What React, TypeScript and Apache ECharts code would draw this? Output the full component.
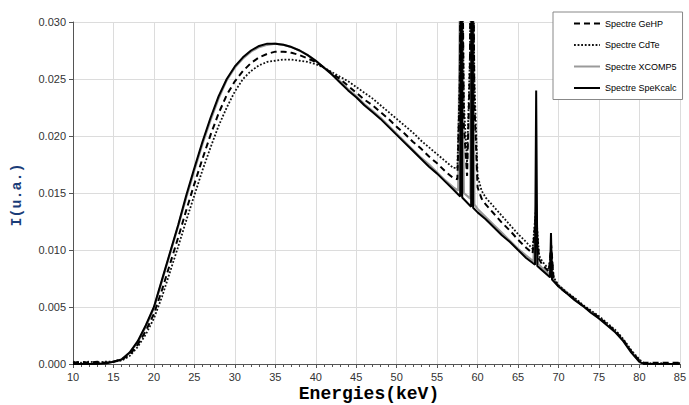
import React, { useEffect, useRef } from "react";
import * as echarts from "echarts";

const xTicks = [10, 15, 20, 25, 30, 35, 40, 45, 50, 55, 60, 65, 70, 75, 80, 85];
const yTicks = [0, 0.005, 0.01, 0.015, 0.02, 0.025, 0.03];

const legendNames = ["Spectre GeHP", "Spectre CdTe", "Spectre XCOMP5", "Spectre SpeKcalc"];

const speKcalc: [number, number][] = [
  [10, 0], [11, 0], [12, 0], [13, 0], [14, 0.00005], [15, 0.0002], [16, 0.0004], [17, 0.001],
  [18, 0.002], [19, 0.0034], [20, 0.005], [21, 0.0074], [22, 0.0098], [23, 0.0122], [24, 0.0148],
  [25, 0.0172], [26, 0.0195], [27, 0.0216], [28, 0.0235], [29, 0.025], [30, 0.0261], [31, 0.0269],
  [32, 0.0275], [33, 0.0279], [34, 0.0281], [35, 0.0281], [36, 0.028], [37, 0.0278], [38, 0.0275],
  [39, 0.0271], [40, 0.0266], [41, 0.026], [42, 0.0254], [43, 0.0247], [44, 0.024], [45, 0.0234],
  [46, 0.0227], [47, 0.0221], [48, 0.0215], [49, 0.0208], [50, 0.0201], [51, 0.0194], [52, 0.0187],
  [53, 0.018], [54, 0.0173], [55, 0.0167], [56, 0.016], [57, 0.0153], [57.85, 0.0147], [57.98, 0.06],
  [58.1, 0.0146], [59.2, 0.0138], [59.32, 0.07], [59.45, 0.0137], [60, 0.0133], [61, 0.0127],
  [62, 0.012], [63, 0.0113], [64, 0.0107], [65, 0.01], [66, 0.0093], [67.1, 0.0087], [67.24, 0.024],
  [67.38, 0.0086], [68, 0.0082], [68.95, 0.0076], [69.07, 0.0115], [69.2, 0.0074], [70, 0.0068],
  [71, 0.0062], [72, 0.0056], [73, 0.0051], [74, 0.0045], [75, 0.004], [76, 0.0034], [77, 0.0028],
  [78, 0.002], [79, 0.001], [80, 0.0002], [80.5, 0], [81, 0], [82, 0], [83, 0], [84, 0], [85, 0],
];

const xcomp5: [number, number][] = [
  [10, 0], [11, 0], [12, 0], [13, 0], [14, 0.0001], [15, 0.0002], [16, 0.0004], [17, 0.001],
  [18, 0.0019], [19, 0.0033], [20, 0.0049], [21, 0.0073], [22, 0.0097], [23, 0.0121], [24, 0.0146],
  [25, 0.017], [26, 0.0193], [27, 0.0214], [28, 0.0233], [29, 0.0249], [30, 0.026], [31, 0.0268],
  [32, 0.0274], [33, 0.0278], [34, 0.028], [35, 0.0281], [36, 0.028], [37, 0.0278], [38, 0.0275],
  [39, 0.0271], [40, 0.0266], [41, 0.026], [42, 0.0254], [43, 0.0248], [44, 0.0241], [45, 0.0235],
  [46, 0.0228], [47, 0.0222], [48, 0.0216], [49, 0.0209], [50, 0.0202], [51, 0.0195], [52, 0.0188],
  [53, 0.0181], [54, 0.0175], [55, 0.0168], [56, 0.0161], [57, 0.0155], [57.6, 0.0152], [57.98, 0.045],
  [58.3, 0.015], [59.1, 0.0145], [59.32, 0.055], [59.6, 0.014], [60, 0.0136], [61, 0.0129],
  [62, 0.0122], [63, 0.0115], [64, 0.0108], [65, 0.0101], [66, 0.0095], [66.9, 0.009], [67.24, 0.014],
  [67.5, 0.0088], [68, 0.0084], [68.9, 0.0078], [69.07, 0.01], [69.3, 0.0075], [70, 0.0069],
  [71, 0.0063], [72, 0.0057], [73, 0.0051], [74, 0.0046], [75, 0.004], [76, 0.0034], [77, 0.0028],
  [78, 0.0021], [79, 0.0011], [80, 0.0002], [80.5, 0], [81, 0], [82, 0], [83, 0], [84, 0], [85, 0],
];

const geHP: [number, number][] = [
  [10, 0.0001], [11, 0.0002], [12, 0.0001], [13, 0.0002], [14, 0.0001], [15, 0.0002], [16, 0.0004],
  [17, 0.0008], [18, 0.0017], [19, 0.0029], [20, 0.0044], [21, 0.0065], [22, 0.0088], [23, 0.0111],
  [24, 0.0135], [25, 0.0158], [26, 0.018], [27, 0.0201], [28, 0.022], [29, 0.0236], [30, 0.0248],
  [31, 0.0257], [32, 0.0264], [33, 0.0269], [34, 0.0272], [35, 0.0274], [36, 0.0274], [37, 0.0273],
  [38, 0.0271], [39, 0.0268], [40, 0.0265], [41, 0.026], [42, 0.0255], [43, 0.025], [44, 0.0244],
  [45, 0.0238], [46, 0.0232], [47, 0.0227], [48, 0.0221], [49, 0.0215], [50, 0.0208], [51, 0.0202],
  [52, 0.0195], [53, 0.0189], [54, 0.0182], [55, 0.0176], [56, 0.0169], [57, 0.0163], [57.5, 0.0162],
  [57.8, 0.024], [58, 0.048], [58.3, 0.021], [58.7, 0.0165], [59.05, 0.026], [59.3, 0.055],
  [59.6, 0.023], [60, 0.0155], [60.5, 0.0145], [61, 0.014], [62, 0.0132], [63, 0.0124], [64, 0.0117],
  [65, 0.0109], [66, 0.0102], [66.8, 0.0097], [67.2, 0.013], [67.6, 0.0092], [68, 0.0087],
  [68.8, 0.0081], [69.1, 0.0104], [69.4, 0.0074], [70, 0.0068], [71, 0.0062], [72, 0.0057],
  [73, 0.0051], [74, 0.0046], [75, 0.0041], [76, 0.0035], [77, 0.0029], [78, 0.0021], [79, 0.0011],
  [80, 0.0003], [80.5, 0.0001], [81, 0.0001], [82, 0.0001], [83, 0.0001], [84, 0.0001], [85, 0.0001],
];

const cdTe: [number, number][] = [
  [10, 0.0002], [11, 0.0001], [12, 0.0002], [13, 0.0001], [14, 0.0002], [15, 0.0002], [16, 0.0003],
  [17, 0.0007], [18, 0.0015], [19, 0.0026], [20, 0.004], [21, 0.0059], [22, 0.0081], [23, 0.0103],
  [24, 0.0126], [25, 0.0148], [26, 0.017], [27, 0.019], [28, 0.0209], [29, 0.0225], [30, 0.0239],
  [31, 0.025], [32, 0.0257], [33, 0.0262], [34, 0.0265], [35, 0.0266], [36, 0.0267], [37, 0.0267],
  [38, 0.0266], [39, 0.0265], [40, 0.0263], [41, 0.026], [42, 0.0256], [43, 0.0252], [44, 0.0248],
  [45, 0.0243], [46, 0.0238], [47, 0.0233], [48, 0.0227], [49, 0.0221], [50, 0.0215], [51, 0.0209],
  [52, 0.0203], [53, 0.0196], [54, 0.019], [55, 0.0184], [56, 0.0178], [57, 0.0172], [57.5, 0.0172],
  [57.8, 0.025], [58, 0.042], [58.3, 0.023], [58.7, 0.0175], [59.05, 0.027], [59.3, 0.048],
  [59.6, 0.025], [60, 0.0165], [60.5, 0.0152], [61, 0.0146], [62, 0.0138], [63, 0.013], [64, 0.0122],
  [65, 0.0114], [66, 0.0107], [66.8, 0.0101], [67.2, 0.0135], [67.6, 0.0095], [68, 0.009],
  [68.8, 0.0083], [69.1, 0.01], [69.4, 0.0076], [70, 0.0069], [71, 0.0063], [72, 0.0058],
  [73, 0.0052], [74, 0.0047], [75, 0.0042], [76, 0.0036], [77, 0.003], [78, 0.0022], [79, 0.0012],
  [80, 0.0004], [80.5, 0.0001], [81, 0.0001], [82, 0], [83, 0.0001], [84, 0], [85, 0.0001],
];

export default function App() {
  const ref = useRef<HTMLDivElement>(null);
  useEffect(() => {
    if (!ref.current) return;
    const chart = echarts.init(ref.current, null, { renderer: "svg" });
    const axisColor = "#555";
    chart.setOption({
      animation: false,
      backgroundColor: "#fff",
      grid: { left: 73, right: 7, top: 22, bottom: 41, containLabel: false },
      xAxis: {
        type: "value",
        min: xTicks[0],
        max: xTicks[xTicks.length - 1],
        interval: 5,
        axisLine: { show: true, onZero: false, lineStyle: { color: axisColor, width: 1 } },
        axisTick: { show: true, length: 4, lineStyle: { color: axisColor } },
        minorTick: { show: true, splitNumber: 5, length: 3, lineStyle: { color: axisColor } },
        splitLine: { show: true, lineStyle: { color: "#dcdcdc", width: 1 } },
        axisLabel: { fontFamily: "Liberation Sans", fontSize: 11, color: "#333", margin: 7 },
      },
      yAxis: {
        type: "value",
        min: yTicks[0],
        max: yTicks[yTicks.length - 1],
        interval: 0.005,
        axisLine: { show: true, lineStyle: { color: axisColor, width: 1 } },
        axisTick: { show: true, length: 4, lineStyle: { color: axisColor } },
        splitLine: { show: true, lineStyle: { color: "#dcdcdc", width: 1 } },
        axisLabel: {
          fontFamily: "Liberation Sans",
          fontSize: 11,
          color: "#333",
          margin: 7,
          formatter: (v: number) => v.toFixed(3),
        },
      },
      legend: {
        orient: "vertical",
        left: 553,
        top: 12,
        itemWidth: 26,
        itemHeight: 10,
        itemGap: 12.5,
        padding: [7, 6, 7, 20],
        borderColor: "#888",
        borderWidth: 1,
        backgroundColor: "#fff",
        itemStyle: { opacity: 0, borderWidth: 0 },
        textStyle: { fontFamily: "Liberation Sans", fontSize: 9, color: "#000" },
        data: legendNames,
      },
      graphic: [
        {
          type: "text",
          x: 369,
          y: 394,
          style: {
            text: "Energies(keV)",
            font: "bold 18px 'Liberation Mono'",
            fill: "#000",
            textAlign: "center",
            textVerticalAlign: "middle",
          },
        },
        {
          type: "text",
          x: 17,
          y: 195,
          rotation: Math.PI / 2,
          style: {
            text: "I(u.a.)",
            font: "bold 15px 'Liberation Mono'",
            fill: "#1a3c78",
            textAlign: "center",
            textVerticalAlign: "middle",
          },
        },
      ],
      series: [
        {
          name: legendNames[2],
          type: "line",
          data: xcomp5,
          symbol: "none",
          showSymbol: false,
          clip: true,
          lineStyle: { color: "#9a9a9a", width: 2.2 },
          itemStyle: { color: "#9a9a9a" },
        },
        {
          name: legendNames[1],
          type: "line",
          data: cdTe,
          symbol: "none",
          showSymbol: false,
          clip: true,
          lineStyle: { color: "#111", width: 1.8, type: [1.8, 1.8] },
          itemStyle: { color: "#111" },
        },
        {
          name: legendNames[0],
          type: "line",
          data: geHP,
          symbol: "none",
          showSymbol: false,
          clip: true,
          lineStyle: { color: "#000", width: 2, type: [6, 4] },
          itemStyle: { color: "#000" },
        },
        {
          name: legendNames[3],
          type: "line",
          data: speKcalc,
          symbol: "none",
          showSymbol: false,
          clip: true,
          lineStyle: { color: "#000", width: 2 },
          itemStyle: { color: "#000" },
        },
      ],
    });
    return () => chart.dispose();
  }, []);
  return (
    <div
      ref={ref}
      style={{ position: "fixed", left: 0, top: 0, width: 689, height: 405, background: "#fff" }}
    />
  );
}
